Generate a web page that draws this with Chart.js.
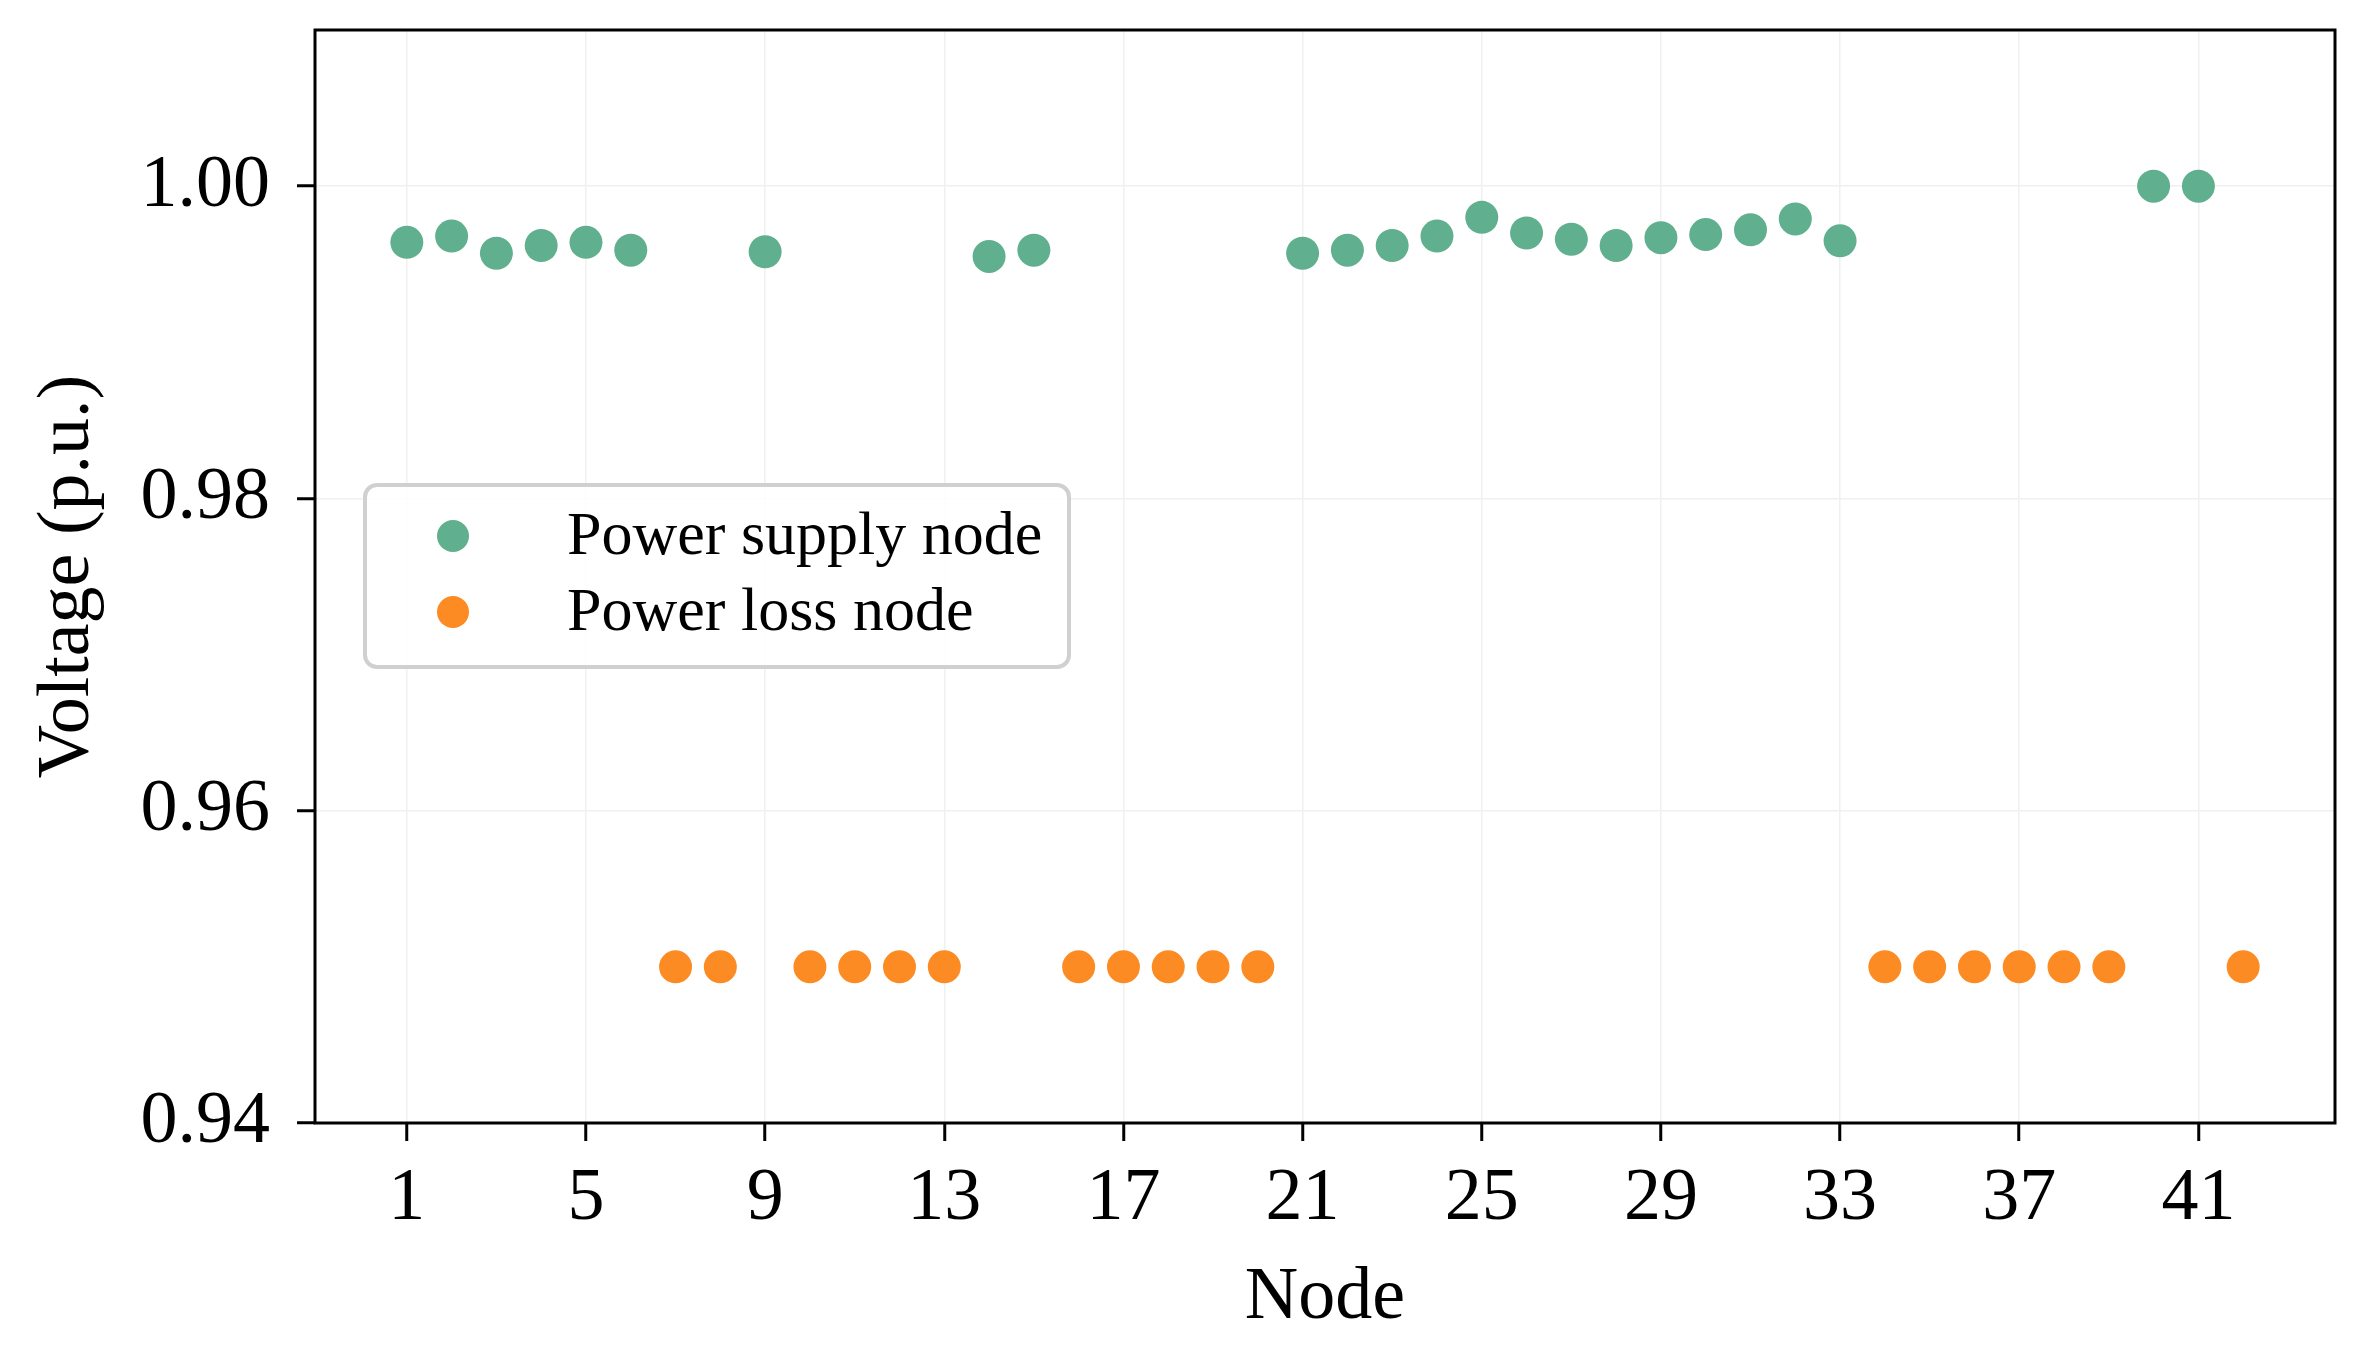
<!DOCTYPE html>
<html>
<head>
<meta charset="utf-8">
<script src="https://cdn.jsdelivr.net/npm/chart.js@4.4.1/dist/chart.umd.min.js"></script>
<style>
  html, body { margin: 0; padding: 0; background: #fff; }
  #wrap { width: 2354px; height: 1355px; }
</style>
</head>
<body>
<div id="wrap"><canvas id="voltageChart" width="2354" height="1355"></canvas></div>
<script>
// Node voltages
const supplyNodes = [1, 2, 3, 4, 5, 6, 9, 14, 15, 21, 22, 23, 24, 25, 26, 27, 28, 29, 30, 31, 32, 33, 40, 41];
const supplyVoltage = [0.9964, 0.9968, 0.9957, 0.9962, 0.9964, 0.9959, 0.9958, 0.9955, 0.9959,
    0.9957, 0.9959, 0.9962, 0.9968, 0.9980, 0.9970, 0.9966, 0.9962, 0.9967, 0.9969, 0.9972,
    0.9979, 0.9965, 1.0000, 1.0000];
const lossNodes = [7, 8, 10, 11, 12, 13, 16, 17, 18, 19, 20, 34, 35, 36, 37, 38, 39, 42];
const lossVoltage = [0.95, 0.95, 0.95, 0.95, 0.95, 0.95, 0.95, 0.95, 0.95, 0.95, 0.95,
    0.95, 0.95, 0.95, 0.95, 0.95, 0.95, 0.95];
const xTicks = [1, 5, 9, 13, 17, 21, 25, 29, 33, 37, 41];
const yTicks = [0.94, 0.96, 0.98, 1.00];
const seriesNames = ['Power supply node', 'Power loss node'];
const seriesColors = ['#60b08f', '#fd8b24'];

const FONT = "'Liberation Serif', 'DejaVu Serif', serif";
Chart.defaults.font.family = FONT;
Chart.defaults.color = '#000';

function toPoints(xs, ys) {
    return xs.map((x, i) => ({ x: x, y: ys[i] }));
}

// Black box round the plot and the legend inside it
const frameAndLegend = {
    id: 'frameAndLegend',
    afterDraw(chart) {
        const ctx = chart.ctx;
        const a = chart.chartArea;
        ctx.save();
        ctx.strokeStyle = '#000';
        ctx.lineWidth = 3;
        ctx.strokeRect(a.left, a.top, a.right - a.left, a.bottom - a.top);

        const bx = a.left + 50, by = a.top + 455, bw = 704, bh = 182;
        ctx.beginPath();
        ctx.roundRect(bx, by, bw, bh, 12);
        ctx.fillStyle = 'rgba(255,255,255,0.85)';
        ctx.fill();
        ctx.strokeStyle = '#d0d0d0';
        ctx.lineWidth = 4;
        ctx.stroke();

        ctx.font = '62px ' + FONT;
        ctx.textBaseline = 'middle';
        ctx.textAlign = 'left';
        seriesNames.forEach((name, i) => {
            const rowY = by + 51 + i * 76;
            ctx.beginPath();
            ctx.arc(bx + 88, rowY, 16, 0, Math.PI * 2);
            ctx.fillStyle = seriesColors[i];
            ctx.fill();
            ctx.fillStyle = '#000';
            ctx.fillText(name, bx + 202, rowY + 2);
        });
        ctx.restore();
    }
};

// keep the plot box where it is, no extra room for end labels
function noEdgePadding(scale) {
    scale.paddingTop = 0;
    scale.paddingBottom = 0;
    scale.paddingLeft = 0;
    scale.paddingRight = 0;
}

new Chart(document.getElementById('voltageChart'), {
    type: 'scatter',
    data: {
        datasets: [{
            label: seriesNames[0],
            data: toPoints(supplyNodes, supplyVoltage),
            backgroundColor: seriesColors[0],
            pointRadius: 16.5,
            pointBorderWidth: 0,
            pointHoverRadius: 16.5
        }, {
            label: seriesNames[1],
            data: toPoints(lossNodes, lossVoltage),
            backgroundColor: seriesColors[1],
            pointRadius: 16.5,
            pointBorderWidth: 0,
            pointHoverRadius: 16.5
        }]
    },
    options: {
        responsive: false,
        devicePixelRatio: 1,
        animation: false,
        layout: { padding: { top: 30, right: 19, left: 0, bottom: 0 } },
        plugins: {
            legend: { display: false },
            tooltip: { enabled: false }
        },
        scales: {
            x: {
                type: 'linear',
                min: -1.05,
                max: 44.05,
                afterBuildTicks: function(scale) {
                    scale.ticks = xTicks.map(v => ({ value: v }));
                },
                afterFit: function(scale) {
                    scale.height = 232;
                    noEdgePadding(scale);
                },
                ticks: {
                    autoSkip: false,
                    maxRotation: 0,
                    padding: 14,
                    font: { size: 74 },
                    color: '#000'
                },
                grid: {
                    color: '#f0f0f0',
                    lineWidth: 1.5,
                    tickColor: '#000',
                    tickLength: 18,
                    tickWidth: 3
                },
                border: { display: false },
                title: {
                    display: true,
                    text: 'Node',
                    font: { size: 74 },
                    color: '#000',
                    padding: { top: 0, bottom: 12 }
                }
            },
            y: {
                min: 0.94,
                max: 1.01,
                afterBuildTicks: function(scale) {
                    scale.ticks = yTicks.map(v => ({ value: v }));
                },
                afterFit: function(scale) {
                    scale.width = 315;
                    noEdgePadding(scale);
                },
                ticks: {
                    padding: 27,
                    font: { size: 74 },
                    color: '#000',
                    callback: function(value) { return value.toFixed(2); }
                },
                grid: {
                    color: '#f0f0f0',
                    lineWidth: 1.5,
                    tickColor: '#000',
                    tickLength: 18,
                    tickWidth: 3
                },
                border: { display: false },
                title: {
                    display: true,
                    text: 'Voltage (p.u.)',
                    font: { size: 74 },
                    color: '#000',
                    padding: { top: 24, bottom: 0 }
                }
            }
        }
    },
    plugins: [frameAndLegend]
});
</script>
</body>
</html>
